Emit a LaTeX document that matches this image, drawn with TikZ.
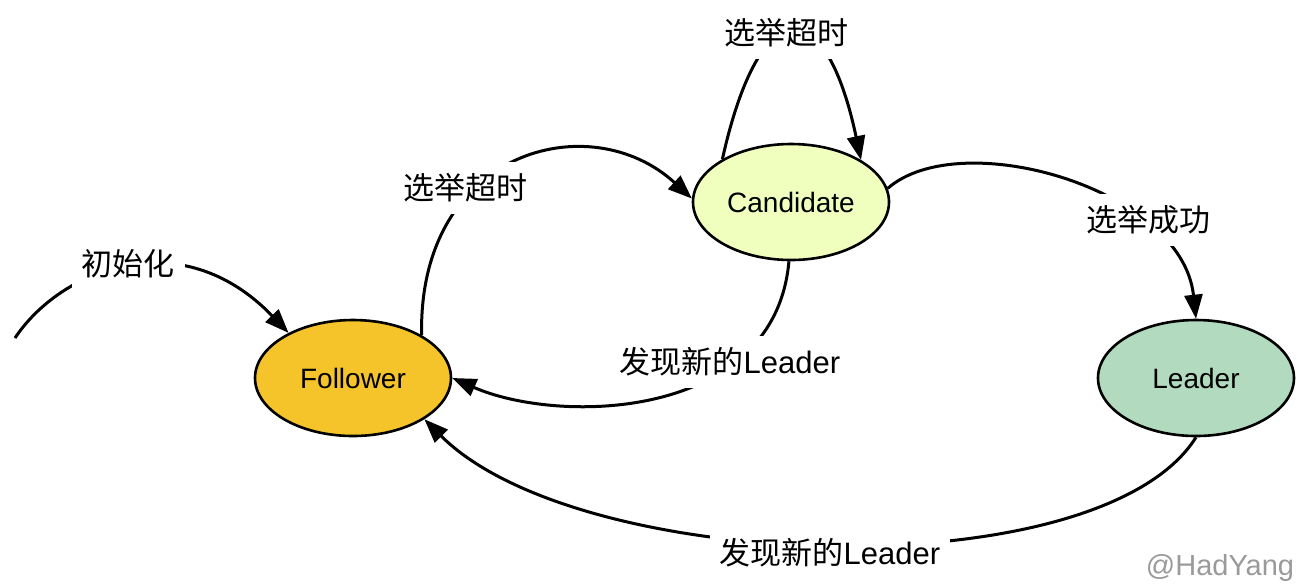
\documentclass[tikz,border=0pt]{standalone}
\usepackage{fontspec}
\setmainfont{Liberation Sans}
\newfontfamily\cjk{Noto Sans CJK SC}
\usetikzlibrary{arrows.meta, shapes.geometric}
\definecolor{FollowerGold}{HTML}{F5C42A}
\definecolor{CandLime}{HTML}{F0FFBE}
\definecolor{LeaderMint}{HTML}{B2DABF}
\definecolor{MarkGray}{HTML}{9A9A9A}
\newcommand{\zh}[1]{{\cjk #1}}

\begin{document}
\begin{tikzpicture}[
    x=0.5pt, y=-0.5pt,
    state/.style={ellipse, draw=black, line width=1.3pt, inner sep=0pt,
                  minimum width=98pt, minimum height=58pt,
                  font=\fontsize{14}{16}\selectfont},
    trans/.style={-{Triangle[length=12pt,width=9pt]}, line width=1.5pt},
    lbl/.style={fill=white, inner xsep=5pt, inner ysep=6pt,
                font=\fontsize{15.5}{18}\selectfont}
  ]
    \useasboundingbox (0,0) rectangle (1298,586);

    \node[state, fill=FollowerGold] (follower) at (353,378) {Follower};
    \node[state, fill=CandLime] (candidate) at (791,202) {Candidate};
    \node[state, fill=LeaderMint] (leader) at (1196,378) {Leader};
    \coordinate (init) at (15,338);

    \draw[trans] (init) .. controls (60,270) and (180,220) .. (follower.145);
    \draw[trans] (follower.32) .. controls (418,150) and (590,105) .. (candidate.178);
    \draw[trans] (candidate.148) .. controls (760,-10) and (825,-10) .. (candidate.31);
    \draw[trans] (candidate.268) .. controls (775,420) and (560,425) .. (follower.east);
    \draw[trans] (candidate.8) .. controls (960,125) and (1182,188) .. (leader.north);
    \draw[trans] (leader.south) .. controls (1100,590) and (580,575) .. (follower.-30);

    % labels over the curves
    \node[lbl] (linit) at (128,264) {\zh{初始化}};
    \node[lbl] (ltimeout) at (465,188) {\zh{选举超时}};
    \node[lbl] (lretry) at (786,33) {\zh{选举超时}};
    \node[lbl] (lfound) at (730,362) {\zh{发现新的}Leader};
    \node[lbl] (lwin) at (1148,220) {\zh{选举成功}};
    \node[lbl] (lstep) at (830,553) {\zh{发现新的}Leader};

    \node[font=\fontsize{14.5}{17}\selectfont, text=MarkGray] (mark) at (1220,568) {@HadYang};
  \end{tikzpicture}
\end{document}
